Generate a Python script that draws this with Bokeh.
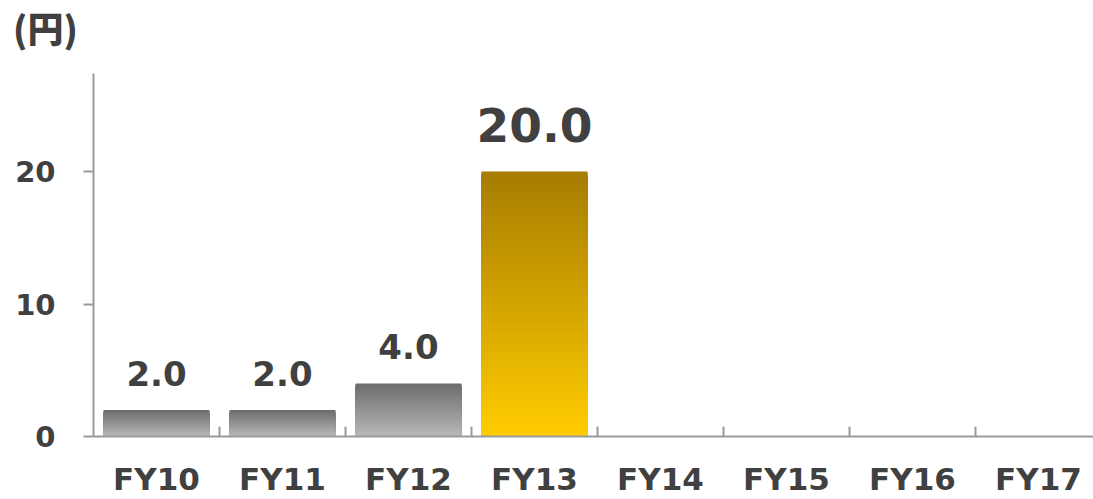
from bokeh.plotting import figure
from bokeh.models import Range1d, FixedTicker, Div, ColumnDataSource
from bokeh.layouts import column
from bokeh.core.properties import value
from bokeh.embed import file_html
from bokeh.resources import INLINE

# ---- data ----
categories = ["FY10", "FY11", "FY12", "FY13", "FY14", "FY15", "FY16", "FY17"]
dividends = [2.0, 2.0, 4.0, 20.0]          # FY10..FY13 (FY14-FY17 empty)
value_labels = ["2.0", "2.0", "4.0", "20.0"]
highlight = [False, False, False, True]
y_ticks = [0, 10, 20]
unit_label = "(円)"

# ---- styles ----
GRAY_TOP, GRAY_BOT = (0x6d, 0x6d, 0x6d), (0xb8, 0xb8, 0xb8)
GOLD_TOP, GOLD_BOT = (0xa6, 0x7c, 0x00), (0xff, 0xcc, 0x00)
TEXT = "#404040"
AXIS = "#9a9a9a"
FONT = "DejaVu Sans"
BAR_W = 0.84

n_cat = len(categories)
Y_MAX = 27.4
X_MAX = 7.937
W, H = 1093, 499
HEAD = 50

head = Div(text=unit_label, width=200, height=HEAD - 8, margin=(8, 0, 0, 13),
           styles={"font-family": "'Noto Sans CJK JP'", "font-weight": "900",
                   "font-size": "36px", "line-height": "1.1", "color": TEXT})

p = figure(width=W, height=H - HEAD, output_backend="svg", toolbar_location=None,
           x_range=Range1d(0, X_MAX), y_range=Range1d(0, Y_MAX),
           min_border_left=93, min_border_right=0, min_border_top=73 - HEAD,
           min_border_bottom=63, margin=(0, 0, 0, 0))
p.outline_line_color = None
p.xgrid.grid_line_color = None
p.ygrid.grid_line_color = None
p.background_fill_color = "white"
p.border_fill_color = "white"

# gradient bars: nested rectangles from the bar base, drawn tallest first
def mix(a, b, t):
    return "#%02x%02x%02x" % tuple(int(round(a[i] + (b[i] - a[i]) * t)) for i in range(3))

L, R, B, T, C = [], [], [], [], []
px_per_unit = 13.25
for i, v in enumerate(dividends):
    top_c, bot_c = (GOLD_TOP, GOLD_BOT) if highlight[i] else (GRAY_TOP, GRAY_BOT)
    n = max(2, int(round(v * px_per_unit)))
    h = v / n
    cx = i + 0.5
    for k in reversed(range(n)):
        t = k / (n - 1)
        L.append(cx - BAR_W / 2); R.append(cx + BAR_W / 2)
        B.append(0); T.append((k + 1) * h)
        C.append(mix(bot_c, top_c, t))
p.quad(left=L, right=R, bottom=B, top=T, fill_color=C, line_color=None)

# value labels
lab_src = ColumnDataSource(dict(
    x=[i + 0.5 for i in range(len(dividends))],
    y=dividends,
    text=value_labels,
    size=["47px" if h else "34px" for h in highlight],
    off=[-47 if h else -37 for h in highlight],
))
p.text(x="x", y="y", text="text", source=lab_src, text_align="center",
       text_baseline="alphabetic", y_offset="off", text_font_size="size",
       text_font=value(FONT), text_font_style="bold", text_color=TEXT)

# x axis
centers = [i + 0.5 for i in range(n_cat)]
bounds = [float(i) for i in range(1, n_cat)]
xa = p.xaxis[0]
xa.ticker = FixedTicker(ticks=centers, minor_ticks=bounds)
xa.major_label_overrides = {c: cat for c, cat in zip(centers, categories)}
xa.major_tick_line_color = None
xa.minor_tick_line_color = AXIS
xa.minor_tick_line_width = 2
xa.minor_tick_in = 10
xa.minor_tick_out = 0
xa.axis_line_color = AXIS
xa.axis_line_width = 2
xa.major_label_text_font = FONT
xa.major_label_text_font_style = "bold"
xa.major_label_text_font_size = "31px"
xa.major_label_text_color = TEXT
xa.major_label_standoff = 18

# y axis
ya = p.yaxis[0]
ya.ticker = FixedTicker(ticks=y_ticks)
ya.minor_tick_line_color = None
ya.major_tick_in = 0
ya.major_tick_out = 10
ya.major_tick_line_color = AXIS
ya.major_tick_line_width = 2
ya.axis_line_color = AXIS
ya.axis_line_width = 2
ya.major_label_text_font = FONT
ya.major_label_text_font_style = "bold"
ya.major_label_text_font_size = "29px"
ya.major_label_text_color = TEXT
ya.major_label_standoff = 28

layout = column(head, p, spacing=0, margin=(0, 0, 0, 0))
open("out.html", "w").write(file_html(layout, INLINE))
